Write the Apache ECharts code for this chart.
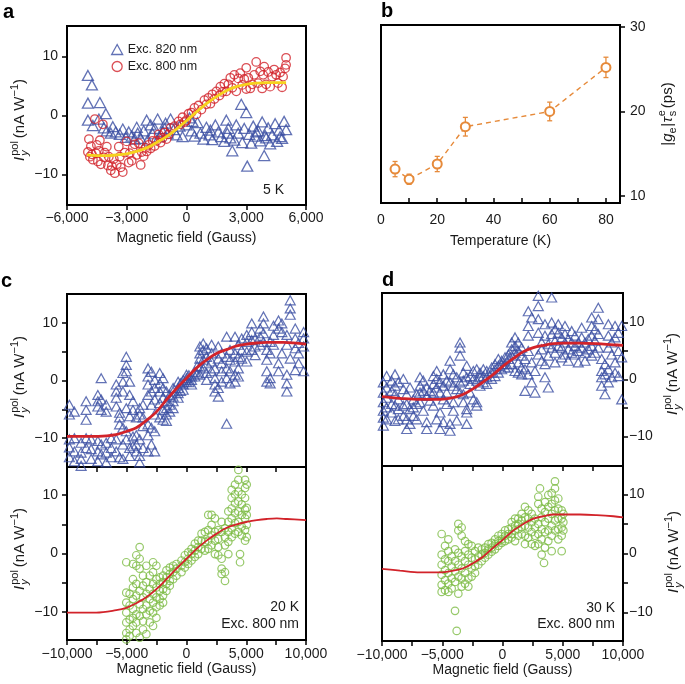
<!DOCTYPE html>
<html><head><meta charset="utf-8">
<script src="https://cdn.jsdelivr.net/npm/echarts@6/dist/echarts.min.js"></script>
<style>html,body{margin:0;padding:0;background:#fff}#c{width:685px;height:684px}</style>
</head><body><div id="c"></div>
<script>
// ---------------- DATA ----------------
// Panel a (5 K): Exc. 820 nm (blue triangles) and Exc. 800 nm (red circles), yellow fit
const blueA = [[-4950,6.8],[-4750,5.2],[-4950,2.1],[-4350,2.2],[-4950,-0.8],[-4400,-0.6],[-4050,0.3],[-4700,-1.7],[-4150,-2.1],[-4000,-2.6],[-3800,-3.0],[-3700,-1.9],[-3550,-2.8],[-3350,-3.2],[-3200,-2.3],[-3050,-3.7],[-2900,-2.8],[-2750,-3.5],[-2600,-4.0],[-2500,-2.0],[-2450,-3.0],[-2300,-3.9],[-2150,-2.6],[-2000,-0.8],[-1950,-4.2],[-1800,-1.6],[-1700,-3.1],[-1600,-2.2],[-1450,-0.6],[-1350,-3.6],[-1200,-2.7],[-1100,-2.2],[-1050,-1.3],[-950,-3.0],[-800,-0.6],[-650,-2.4],[-500,-3.3],[-350,-1.8],[-200,-3.6],[0,-1.6],[150,-0.4],[250,-2.6],[300,-1.0],[400,-3.5],[550,-1.2],[700,-3.0],[850,-4.0],[1000,-2.0],[1150,-3.3],[1200,-2.5],[1300,-4.1],[1450,-1.6],[1600,-2.8],[1750,-3.6],[1900,-4.4],[2000,-0.8],[2050,-3.0],[2100,-2.2],[2200,-3.8],[2300,-6.0],[2400,-4.2],[2500,-1.6],[2600,-3.0],[2750,1.9],[2800,-4.6],[2900,-2.2],[3000,0.5],[3050,-8.6],[3150,-3.2],[3250,-4.7],[3350,-1.8],[3450,-3.5],[3500,-2.8],[3600,-2.6],[3700,-4.3],[3800,-1.1],[3900,-6.8],[3950,-3.4],[4000,-3.8],[4100,-2.1],[4200,-4.8],[4300,-3.3],[4450,-1.4],[4550,-4.4],[4650,-2.5],[4700,-3.6],[4800,-3.9],[4900,-1.0],[5000,-2.4]];
const redA = [[-4950,-6.2],[-4900,-4.0],[-4850,-7.0],[-4800,-5.2],[-4750,-6.6],[-4700,-7.5],[-4600,-0.6],[-4550,-6.4],[-4500,-5.0],[-4450,-7.8],[-4400,-6.0],[-4350,-4.2],[-4300,-8.3],[-4200,-1.5],[-4150,-7.1],[-4100,-6.3],[-4000,-5.3],[-3950,-8.5],[-3900,-7.0],[-3800,-9.3],[-3750,-8.6],[-3650,-7.4],[-3600,-9.8],[-3500,-8.3],[-3400,-5.3],[-3350,-7.0],[-3300,-8.8],[-3200,-9.6],[-3100,-6.3],[-3000,-4.4],[-2900,-8.0],[-2850,-6.4],[-2750,-7.7],[-2700,-5.5],[-2600,-4.9],[-2500,-6.7],[-2400,-4.7],[-2300,-8.4],[-2250,-6.2],[-2150,-6.9],[-2050,-5.5],[-2000,-6.1],[-1900,-5.0],[-1800,-5.6],[-1700,-4.3],[-1600,-5.2],[-1500,-4.3],[-1400,-3.2],[-1300,-4.6],[-1200,-3.8],[-1100,-2.9],[-1000,-4.0],[-900,-3.2],[-800,-2.1],[-600,-1.8],[-400,-1.0],[-300,-1.5],[-200,-0.3],[-100,-1.1],[0,-0.8],[100,0.3],[250,0.5],[400,1.3],[500,0.2],[600,1.7],[750,1.0],[900,2.6],[1000,1.9],[1100,3.0],[1200,2.0],[1300,3.6],[1400,2.8],[1500,4.1],[1650,3.4],[1700,4.9],[1800,4.0],[1900,5.4],[2000,4.1],[2100,5.3],[2200,6.4],[2300,4.7],[2400,6.9],[2500,4.1],[2600,6.3],[2700,7.2],[2800,5.2],[2900,6.2],[3000,4.5],[3000,8.1],[3100,6.4],[3200,4.6],[3300,5.3],[3400,6.9],[3500,9.1],[3600,5.5],[3700,7.5],[3800,4.6],[3850,6.9],[3900,8.3],[4000,5.3],[4100,7.4],[4200,4.9],[4300,6.6],[4400,7.8],[4500,6.9],[4600,5.5],[4700,7.3],[4800,4.8],[4850,6.6],[4950,8.0],[5000,9.8],[5000,8.6]];
const fitA = [[-5000,-6.7],[-4500,-6.8],[-4000,-6.8],[-3500,-6.7],[-3000,-6.5],[-2500,-6.1],[-2000,-5.5],[-1500,-4.6],[-1000,-3.6],[-500,-2.3],[0,-0.9],[500,0.6],[1000,2.0],[1500,3.2],[2000,4.2],[2500,4.9],[3000,5.3],[3500,5.5],[4000,5.6],[4500,5.6],[5000,5.6]];

// Panel b: temperature dependence
const tempB = [5,10,20,30,60,80];
const valB  = [13.2,12.0,13.8,18.2,20.0,25.2];
const errB  = [0.9,0.6,0.9,1.1,1.1,1.2];

// Panel c (20 K): columns [field, [values...]]
const cTopCols = [[-9800,[-4.2,-5.9,-10.2,-11.6,-13.3]],[-9380,[-5.4,-10.0,-12.3,-14.0]],[-8820,[-10.8,-12.5,-13.6,-14.8]],[-8400,[-3.6,-5.1,-6.8,-10.0,-11.7]],[-7980,[-10.2,-11.9,-13.6]],[-7420,[-2.5,-3.6,-4.5,-10.5,-12.3,-14.0]],[-7140,[0.4,-3.3,-5.1,-11.1,-12.8]],[-6720,[-4.2,-5.4,-10.8,-12.5,-14.2]],[-6300,[-10.0,-11.7,-13.3]],[-5880,[-0.7,-1.9,-3.0,-4.5,-10.2,-12.3]],[-5600,[-5.6,-6.4,-7.6,-13.3]],[-5320,[1.3,-0.2,-1.9,-8.2,-11.1,-13.6]],[-5040,[4.1,2.7,1.6,-4.8,-8.8,-10.2]],[-4760,[-0.2,-2.5,-6.2,-11.7,-13.1]],[-4480,[-3.6,-5.1,-9.7,-11.4]],[-4200,[-6.4,-9.5,-11.1,-12.3]],[-3920,[-4.8,-5.9,-10.2,-13.1,-14.2]],[-3640,[-4.2,-6.4,-7.9,-11.7]],[-3220,[2.1,0.7,-0.7,-2.5,-7.6,-9.5,-12.3]],[-2940,[1.5,-1.9,-4.2,-8.2,-11.1]],[-2660,[0.1,-1.3,-3.3,-5.9,-8.8,-12.3]],[-2240,[1.3,-0.5,-1.9,-3.9,-6.4]],[-1960,[0.4,-1.3,-3.0,-5.1,-6.8]],[-1680,[-1.9,-3.6,-4.8,-5.9,-7.0]],[-1400,[-2.5,-4.2,-5.4]],[-1120,[-1.3,-1.9,-2.8,-3.6,-4.8]],[-700,[-0.2,-1.3,-2.2,-3.0]],[-500,[-0.5,-1.8]],[-280,[0.1,-0.7,-1.6]],[0,[1.0,0.4,-0.2]],[200,[0.9,-0.3]],[420,[0.7,0.1,-0.7]],[700,[1.5,0.7]],[900,[2.5,1.2]],[1120,[5.9,4.7,3.8,2.4,1.0]],[1400,[6.4,5.3,3.6,2.1]],[1680,[5.6,4.1,3.0,1.3,0.1]],[2100,[6.2,4.7,3.3,1.6]],[2380,[2.1,0.4,-0.7,-1.9]],[2660,[5.9,3.8,-1.3,-2.8]],[2940,[4.7,3.0,1.6,-0.2]],[3360,[7.6,4.1,2.1,0.4,-7.5]],[3640,[5.3,3.6,1.6,-0.5]],[4060,[7.6,4.7,3.3,1.0,-0.2]],[4340,[6.2,4.1,2.1,0.7]],[4620,[7.3,5.3,3.8]],[5040,[7.9,6.7,5.0,3.3]],[5460,[9.9,8.4,7.0,5.3]],[5740,[7.3,5.9,4.4]],[6160,[9.0,7.6,6.2]],[6440,[11.1,9.9,8.2,6.7]],[6720,[5.3,3.6,1.6,-0.2]],[7000,[6.7,4.7,0.4,-0.5]],[7280,[9.5,7.9,6.2]],[7700,[10.4,9.0,3.0,1.6]],[7980,[9.9,8.4,4.7]],[8400,[7.9,6.2,1.0,-0.5,-1.9]],[8680,[13.9,12.5,11.4,3.8]],[9100,[9.0,7.3,5.6,1.8]],[9380,[6.5,4.7,3.0]],[9800,[8.4,7.3,5.9,1.6]]];
const fitCTop = [[-10000,-9.7],[-8000,-9.7],[-6700,-9.6],[-5900,-9.4],[-5000,-8.8],[-4200,-8.2],[-3400,-7.0],[-2500,-5.4],[-1700,-3.4],[-800,-1.3],[0,0.4],[800,2.1],[1700,3.6],[2500,4.7],[3400,5.4],[4200,6.0],[5000,6.3],[5900,6.5],[6700,6.6],[8100,6.6],[10000,6.3]];
const cBotCols = [[-5040,[-1.5,-6.7,-8.4,-10.1,-11.8,-13.6,-14.7]],[-4760,[-6.9,-8.9,-11.3,-13.0,-14.1]],[-4480,[-1.8,-4.4,-5.8,-7.8,-9.5,-11.0,-12.4]],[-4200,[-0.3,-2.1,-5.2,-7.2,-10.4,-11.8,-13.6]],[-3920,[1.1,-0.9,-2.6,-6.4,-8.7,-10.7,-14.4]],[-3640,[-3.8,-5.5,-7.5,-9.5,-11.6,-13.0]],[-3360,[-2.1,-4.9,-6.9,-8.9,-10.4,-13.8]],[-3080,[-3.8,-6.1,-7.8,-9.8,-11.8]],[-2800,[-1.5,-3.2,-5.2,-6.9,-8.4,-10.1,-12.4]],[-2520,[-2.1,-4.4,-5.8,-7.5,-9.2,-11.0]],[-2240,[-4.1,-5.2,-6.4,-7.8,-8.9]],[-1960,[-3.8,-4.9,-6.1,-7.2,-8.4]],[-1680,[-2.9,-4.1,-5.2,-6.4]],[-1400,[-2.4,-3.5,-4.7,-5.5]],[-1120,[-2.1,-3.2,-4.4]],[-840,[-1.8,-2.6,-3.8]],[-420,[-1.2,-2.1,-3.2]],[-140,[-0.3,-1.5,-2.4]],[140,[0.2,-0.9,-1.8]],[420,[0.8,-0.1,-1.2]],[700,[1.7,0.5,-0.6]],[980,[2.2,1.1,-0.1]],[1260,[3.4,2.2,0.8]],[1540,[3.7,2.0,0.5]],[1820,[6.6,4.0,2.2,0.8]],[2100,[6.6,4.9,3.1,1.4]],[2380,[6.0,3.7,2.2,-0.1]],[2660,[4.0,2.5,1.1,-0.3]],[2940,[5.4,3.7,-0.9,-2.6,-3.5]],[3220,[4.3,2.8,1.4,-3.2,-4.7]],[3500,[7.2,5.4,3.7,2.0,-0.1]],[3780,[10.9,9.5,7.7,6.0,4.3,2.8]],[4060,[11.8,10.1,8.6,6.9,5.2,3.4]],[4340,[14.3,12.6,10.6,8.9,7.2,5.4,3.7]],[4480,[-0.1,-1.5]],[4620,[10.1,8.4,6.6,4.6,3.1]],[4900,[12.6,11.2,9.5,7.5,6.0,4.0,2.2]],[5040,[11.8,7.8,6.6,4.9,2.8]]];
const fitCBot = [[-10000,-10.1],[-7560,-10.1],[-5880,-9.7],[-5040,-9.3],[-4200,-8.5],[-3360,-7.5],[-2520,-6.1],[-1680,-4.4],[-840,-2.6],[0,-0.9],[840,0.8],[1680,2.2],[2520,3.4],[3360,4.4],[4200,5.0],[5040,5.4],[5880,5.7],[6720,5.9],[7560,6.0],[8400,5.9],[10000,5.7]];

// Panel d (30 K)
const dTopCols = [[-9890,[-0.5,-2.3,-4.0,-5.5,-6.7,-8.1]],[-9615,[0.6,-1.4,-3.2,-4.9,-7.0]],[-9200,[-0.2,-2.0,-4.3,-5.8]],[-8920,[0.9,-1.1,-2.6,-4.6,-7.3]],[-8645,[-0.5,-3.5,-5.2,-7.0]],[-8230,[0.1,-1.7,-4.6,-6.4]],[-7950,[-2.6,-4.3,-7.0,-8.7]],[-7675,[-1.4,-5.2,-7.8]],[-7400,[-3.5,-4.9,-6.4]],[-7120,[-2.6,-4.3,-7.0]],[-6845,[0.4,-1.1,-2.3,-4.0]],[-6570,[-0.2,-2.0,-5.5]],[-6290,[-1.4,-2.9,-7.5,-8.7]],[-6015,[-2.0,-3.7]],[-5740,[0.6,-0.8,-2.3,-4.6]],[-5460,[1.5,0.1,-1.4,-7.0]],[-5185,[-0.5,-2.3,-5.8,-8.7]],[-4910,[0.9,-1.1,-3.5,-7.5]],[-4630,[-0.2,-2.3,-4.3]],[-4355,[3.3,1.8,-0.5,-7.8,-9.0]],[-4080,[0.9,-1.1,-4.0,-5.5]],[-3800,[0.4,-1.7,-7.2]],[-3525,[6.5,5.6,4.2,-0.5,-2.3]],[-3250,[1.2,-0.2,-2.6,-4.0]],[-2970,[2.4,0.4,-5.2,-5.8,-7.8]],[-2695,[0.6,-0.8,-2.3]],[-2420,[1.5,0.1,-3.5]],[-2140,[1.8,-0.2,-4.0,-4.6]],[-1865,[1.2,0.4,-1.1]],[-1590,[1.8,0.6,-0.5]],[-1310,[1.5,0.4,-0.8]],[-900,[2.1,1.2,0.1]],[-620,[2.7,1.8,0.6]],[-345,[3.6,2.4,1.2]],[-70,[3.3,2.7,1.8]],[210,[3.9,2.7,2.1]],[485,[4.4,3.6,2.1]],[760,[6.5,5.3,4.2,2.7]],[1040,[7.4,5.9,4.7,1.5]],[1310,[6.5,5.0,3.0,1.2]],[1590,[5.6,4.2,2.1,0.9]],[1865,[3.6,1.8,-2.0]],[2140,[12.0,9.4,7.7,5.0,0.9]],[2420,[10.9,3.0,-0.5]],[2695,[-2.3,1.5]],[2970,[14.7,12.9,10.6,8.2,4.4]],[3250,[6.5,5.3,3.3]],[3525,[9.7,7.7,2.7,0.4]],[3800,[6.2,4.2,-1.4]],[4080,[14.4,10.0,8.0,5.6]],[4355,[8.8,6.8,4.7,3.0]],[4630,[9.7,8.2,5.9]],[4910,[7.4,5.6,3.9]],[5185,[9.4,8.0,6.5,4.4]],[5460,[7.1,5.3,3.3]],[5740,[8.5,6.5,4.7]],[6015,[7.7,5.9,4.4]],[6290,[6.5,5.0,3.0]],[6570,[9.1,7.4,5.6]],[6845,[6.5,4.7,3.3]],[7120,[7.1,5.3]],[7400,[10.9,9.4,7.7,5.9,4.2]],[7675,[8.8,6.8,4.7]],[7950,[12.6,10.6,8.0,5.6]],[8230,[3.6,1.5,0.4,-1.1]],[8505,[2.7,0.9,-2.6]],[8785,[9.7,7.7,5.6,1.8,-0.5]],[9060,[6.5,4.4,0.4]],[9340,[9.4,7.4,3.0,1.2]],[9615,[8.2,5.0,0.6]],[9890,[9.4,3.9,-3.5]]];
const fitDTop = [[-10000,-3.0],[-8510,-3.3],[-6845,-3.5],[-5185,-3.5],[-4080,-3.2],[-3250,-2.6],[-2420,-1.6],[-1590,-0.4],[-760,0.9],[70,2.4],[900,3.7],[1730,4.9],[2560,5.6],[3390,6.0],[4220,6.3],[5050,6.4],[6430,6.4],[7815,6.3],[9200,6.1],[10000,6.0]];
const dBotCols = [[-5050,[3.3,-0.2,-1.9,-3.6,-5.3,-6.5]],[-4770,[1.3,-1.0,-2.8,-4.5,-6.2]],[-4495,[2.4,0.4,-1.3,-3.3,-5.1,-6.5]],[-4220,[-0.5,-2.2,-4.2,-5.9]],[-3940,[0.7,-1.3,-3.0,-4.8,-9.7]],[-3800,[-13.1]],[-3665,[5.0,3.9,0.1,-1.9,-3.9,-6.8]],[-3390,[4.4,3.0,-0.5,-2.5,-4.2,-5.6]],[-3110,[2.1,0.4,-1.3,-3.3,-5.1]],[-2835,[1.6,-0.2,-1.9,-4.2,-5.6]],[-2560,[1.3,-0.7,-2.5,-3.9]],[-2280,[0.4,-1.0,-2.2,-3.3]],[-2005,[1.0,-0.5,-1.9]],[-1730,[0.7,-0.2,-1.3]],[-1450,[1.0,0.1,-0.7]],[-1175,[1.6,0.7,-0.2]],[-900,[1.8,1.0,0.3]],[-620,[2.4,1.6,0.7]],[-345,[3.0,2.1,1.3]],[-70,[3.3,2.4,1.8]],[210,[3.9,3.0,2.1]],[485,[4.1,3.3,2.4]],[760,[5.3,4.4,3.3,2.7]],[1040,[5.9,4.7,3.9,2.1]],[1310,[5.9,5.0,4.1,3.0]],[1590,[6.7,5.6,4.4,3.3]],[1865,[7.9,6.1,4.7,3.0,1.6]],[2140,[7.3,5.9,4.4,2.7]],[2420,[6.7,5.3,3.6,1.6]],[2695,[5.9,4.4,3.0,1.3]],[2970,[9.6,8.4,5.0,3.3,1.6]],[3110,[11.0]],[3250,[7.6,6.1,4.1,2.4,-0.2]],[3445,[-1.6]],[3525,[8.7,7.0,5.3,3.6,1.0]],[3800,[9.9,7.9,5.9,3.9,2.1]],[4080,[10.2,8.4,6.7,4.7,3.0,0.4]],[4355,[12.2,11.0,9.0,7.3,5.6,3.9]],[4630,[9.3,7.6,5.9,4.1,2.4]],[4910,[7.3,5.9,4.4,3.0,0.4]],[5050,[6.7,5.3,3.9]]];
const fitDBot = [[-10000,-2.6],[-8510,-2.9],[-6845,-3.2],[-5185,-3.2],[-4080,-2.9],[-3250,-2.5],[-2420,-1.6],[-1590,-0.5],[-760,1.0],[70,2.4],[900,3.9],[1730,5.0],[2560,5.9],[3390,6.3],[4220,6.6],[5050,6.6],[6430,6.6],[7815,6.5],[9200,6.3],[10000,6.1]];

// Tick positions / labels
const xTicksA = [-6000,-3000,0,3000,6000];
const xTicksB = [0,10,20,30,40,50,60,70,80];
const xLabelsB = [0,20,40,60,80];
const yTicksB = [10,20,30];
const xTicksCD = [-10000,-7500,-5000,-2500,0,2500,5000,7500,10000];
const xLabelsCD = [-10000,-5000,0,5000,10000];
const yTicksIy = [-10,-5,0,5,10];
const yLabelsIy = [-10,0,10];

// ---------------- RENDER ----------------
const FF = "'Liberation Sans', Arial, Helvetica, sans-serif";
const TXT = '#1a1a1a';
const BLUE = '#3B4FA2', RED = '#D2232A', YEL = '#F6D21E', GREEN = '#7DBB45', ORANGE = '#E68A3A';
const flat = cols => { const out=[]; cols.forEach(c => c[1].forEach(v => out.push([c[0], v]))); return out; };
const fmtG = v => (v < 0 ? '\u2212' : '') + Math.abs(v).toLocaleString('en-US');

const ctx = document.createElement('canvas').getContext('2d');
function tw(t, size, italic) { ctx.font = (italic ? 'italic ' : '') + size + 'px ' + FF; return ctx.measureText(t).width; }
function rotTitle(cx, cy, parts) {
  let w = 0;
  parts.forEach(p => { w = Math.max(w, p.x + tw(p.t, p.s, p.it)); });
  const off = -w / 2;
  return { type: 'group', x: cx, y: cy, rotation: Math.PI / 2, silent: true,
    children: parts.map(p => ({ type: 'text', x: p.x + off, y: p.y || 0,
      style: { text: p.t, fontSize: p.s, fontFamily: FF, fontStyle: p.it ? 'italic' : 'normal', fill: TXT, align: 'left', verticalAlign: 'middle' } })) };
}
function iyTitle(cx, cy) {
  const M = 15, S = 11;
  const wI = tw('I', M, true) + 1;
  const wS = Math.max(tw('pol', S), tw('y', S, true)) + 3;
  const p = [];
  p.push({ t: 'I', s: M, it: true, x: 0 });
  p.push({ t: 'pol', s: S, x: wI, y: -5 });
  p.push({ t: 'y', s: S, it: true, x: wI, y: 5 });
  let x = wI + wS;
  p.push({ t: '(nA W', s: M, x: x }); x += tw('(nA W', M);
  p.push({ t: '\u22121', s: S, x: x, y: -5 }); x += tw('\u22121', S);
  p.push({ t: ')', s: M, x: x });
  return rotTitle(cx, cy, p);
}
function gTitle(cx, cy) {
  const M = 15, S = 11;
  const p = [];
  let x = 0;
  p.push({ t: '|', s: M, x: x }); x += tw('|', M);
  p.push({ t: 'g', s: M, it: true, x: x }); x += tw('g', M, true);
  p.push({ t: 'e', s: S, x: x, y: 5 }); x += tw('e', S) + 0.5;
  p.push({ t: '|', s: M, x: x }); x += tw('|', M) + 0.5;
  p.push({ t: '\u03C4', s: M, it: true, x: x }); x += tw('\u03C4', M, true) + 0.5;
  p.push({ t: 'e', s: S, x: x, y: -6 });
  p.push({ t: 's', s: S, x: x, y: 5 }); x += tw('e', S) + 2;
  p.push({ t: '(ps)', s: M, x: x });
  return rotTitle(cx, cy, p);
}
const txt = (x, y, t, opt) => Object.assign({ type: 'text', x: x, y: y, silent: true,
  style: Object.assign({ text: t, fontSize: 14, fontFamily: FF, fill: TXT, align: 'right', verticalAlign: 'middle' }, opt || {}) });

const grids = [
  { left: 67, top: 26, width: 239, height: 179 },   // a
  { left: 381, top: 25, width: 239, height: 178 },  // b
  { left: 67, top: 294, width: 239, height: 173 },  // c top
  { left: 67, top: 467, width: 239, height: 173 },  // c bottom
  { left: 382, top: 293, width: 241, height: 173 }, // d top
  { left: 382, top: 466, width: 241, height: 175 }  // d bottom
].map(g => Object.assign({ show: true, borderColor: '#000', borderWidth: 2, backgroundColor: 'transparent', containLabel: false }, g));

const noLine = { show: false, onZero: false };
const lab = (extra) => Object.assign({ color: TXT, fontSize: 14, fontFamily: FF }, extra);
const tick = (extra) => Object.assign({ show: true, length: 5, lineStyle: { color: '#000', width: 1.5 } }, extra);
const xFieldTop = (gi) => ({ type: 'value', gridIndex: gi, position: 'bottom', min: -10000, max: 10000, axisLine: noLine, splitLine: { show: false },
  axisTick: tick({ customValues: xTicksCD }), axisLabel: { show: false } });
const xFieldBot = (gi, nameGap) => ({ type: 'value', gridIndex: gi, position: 'bottom', min: -10000, max: 10000, axisLine: noLine, splitLine: { show: false },
  axisTick: tick({ customValues: xTicksCD }), axisLabel: lab({ customValues: xLabelsCD, formatter: fmtG, margin: 7 }),
  name: 'Magnetic field (Gauss)', nameLocation: 'middle', nameGap: nameGap, nameTextStyle: lab({}) });
const yIy = (gi, pos, mn, mx, margin) => ({ type: 'value', gridIndex: gi, position: pos, min: mn, max: mx, axisLine: noLine, splitLine: { show: false },
  axisTick: tick({ customValues: yTicksIy }), axisLabel: lab({ customValues: yLabelsIy, margin: margin, formatter: fmtG, align: pos === 'right' ? 'left' : 'right' }) });

const xAxis = [
  { type: 'value', gridIndex: 0, position: 'bottom', min: -6000, max: 6000, interval: 3000, axisLine: noLine, splitLine: { show: false },
    axisTick: tick({ customValues: xTicksA }), axisLabel: lab({ customValues: xTicksA, formatter: fmtG, margin: 6 }),
    name: 'Magnetic field (Gauss)', nameLocation: 'middle', nameGap: 26, nameTextStyle: lab({}) },
  { type: 'value', gridIndex: 1, position: 'bottom', min: 0, max: 85, axisLine: noLine, splitLine: { show: false },
    axisTick: tick({ customValues: xTicksB, inside: true }), axisLabel: lab({ customValues: xLabelsB, margin: 10 }),
    name: 'Temperature (K)', nameLocation: 'middle', nameGap: 31, nameTextStyle: lab({}) },
  xFieldTop(2), xFieldBot(3, 20), xFieldTop(4), xFieldBot(5, 20)
];
const yAxis = [
  { type: 'value', gridIndex: 0, position: 'left', min: -15.2, max: 15.2, axisLine: noLine, splitLine: { show: false },
    axisTick: tick({ customValues: yLabelsIy }), axisLabel: lab({ customValues: yLabelsIy, margin: 9, formatter: fmtG }) },
  { type: 'value', gridIndex: 1, position: 'right', min: 9.2, max: 30.2, axisLine: noLine, splitLine: { show: false },
    axisTick: tick({ customValues: yTicksB }), axisLabel: lab({ customValues: yTicksB, margin: 10, align: 'left' }) },
  yIy(2, 'left', -15, 15, 9), yIy(3, 'left', -14.8, 14.8, 9),
  yIy(4, 'right', -15.2, 15.2, 6), yIy(5, 'right', -14.8, 14.8, 6)
];

const hollow = (color, w) => ({ color: 'rgba(0,0,0,0)', borderColor: color, borderWidth: w });
const scat = (name, gi, data, symbol, size, color, w) => ({ name: name, type: 'scatter', xAxisIndex: gi, yAxisIndex: gi, data: data,
  symbol: symbol, symbolSize: size, itemStyle: hollow(color, w), silent: true, z: 2 });
const fit = (gi, data, color, w) => ({ type: 'line', xAxisIndex: gi, yAxisIndex: gi, data: data, smooth: 0.35, showSymbol: false, symbol: 'none',
  lineStyle: { color: color, width: w }, silent: true, z: 4, clip: true });

const series = [
  scat('Exc. 820 nm', 0, blueA, 'triangle', [11, 10], BLUE, 1.3),
  scat('Exc. 800 nm', 0, redA, 'circle', 8.5, RED, 1.3),
  fit(0, fitA, YEL, 2.8),
  { type: 'custom', xAxisIndex: 1, yAxisIndex: 1, data: tempB.map((t, i) => [t, valB[i], errB[i]]), z: 2, silent: true,
    renderItem: function (params, api) {
      const x = api.value(0), y = api.value(1), e = api.value(2);
      const a = api.coord([x, y + e]), b = api.coord([x, y - e]);
      const st = { stroke: ORANGE, lineWidth: 1.3 };
      return { type: 'group', children: [
        { type: 'line', shape: { x1: a[0], y1: a[1], x2: b[0], y2: b[1] }, style: st },
        { type: 'line', shape: { x1: a[0] - 2.5, y1: a[1], x2: a[0] + 2.5, y2: a[1] }, style: st },
        { type: 'line', shape: { x1: b[0] - 2.5, y1: b[1], x2: b[0] + 2.5, y2: b[1] }, style: st } ] };
    } },
  { type: 'line', xAxisIndex: 1, yAxisIndex: 1, data: tempB.map((t, i) => [t, valB[i]]), symbol: 'emptyCircle', symbolSize: 9,
    itemStyle: { color: ORANGE, borderWidth: 1.5 }, lineStyle: { color: ORANGE, width: 1.4, type: [5, 4] }, z: 3, silent: true },
  scat('20 K 820', 2, flat(cTopCols), 'triangle', [10, 9], BLUE, 1.2),
  fit(2, fitCTop, RED, 2.8),
  scat('20 K 800', 3, flat(cBotCols), 'circle', 7.5, GREEN, 1.2),
  fit(3, fitCBot, RED, 1.8),
  scat('30 K 820', 4, flat(dTopCols), 'triangle', [10, 9], BLUE, 1.2),
  fit(4, fitDTop, RED, 2.8),
  scat('30 K 800', 5, flat(dBotCols), 'circle', 7.5, GREEN, 1.2),
  fit(5, fitDBot, RED, 1.8)
];

const graphic = [
  txt(3, 12, 'a', { fontSize: 20, fontWeight: 'bold', align: 'left', fill: '#000' }),
  txt(381, 11, 'b', { fontSize: 20, fontWeight: 'bold', align: 'left', fill: '#000' }),
  txt(1, 281, 'c', { fontSize: 20, fontWeight: 'bold', align: 'left', fill: '#000' }),
  txt(382, 280, 'd', { fontSize: 20, fontWeight: 'bold', align: 'left', fill: '#000' }),
  txt(284, 190, '5 K'),
  txt(299, 607, '20 K'), txt(299, 624, 'Exc. 800 nm'),
  txt(615, 608, '30 K'), txt(615, 624, 'Exc. 800 nm'),
  iyTitle(20, 120), iyTitle(20, 377), iyTitle(20, 549),
  iyTitle(673, 374), iyTitle(674, 552),
  gTitle(668, 114)
];

const chart = echarts.init(document.getElementById('c'), null, { renderer: 'canvas', width: 685, height: 684 });
chart.setOption({
  backgroundColor: '#fff', animation: false,
  textStyle: { fontFamily: FF, color: TXT },
  grid: grids, xAxis: xAxis, yAxis: yAxis, series: series, graphic: graphic,
  legend: { orient: 'vertical', left: 106, top: 38, itemWidth: 11, itemHeight: 10, itemGap: 4, selectedMode: false,
    textStyle: { fontSize: 12.5, fontFamily: FF, color: TXT, padding: [0, 0, 0, 0] },
    data: [
      { name: 'Exc. 820 nm', icon: 'triangle', itemStyle: hollow(BLUE, 1.3) },
      { name: 'Exc. 800 nm', icon: 'circle', itemStyle: hollow(RED, 1.3) } ] }
});
</script></body></html>
